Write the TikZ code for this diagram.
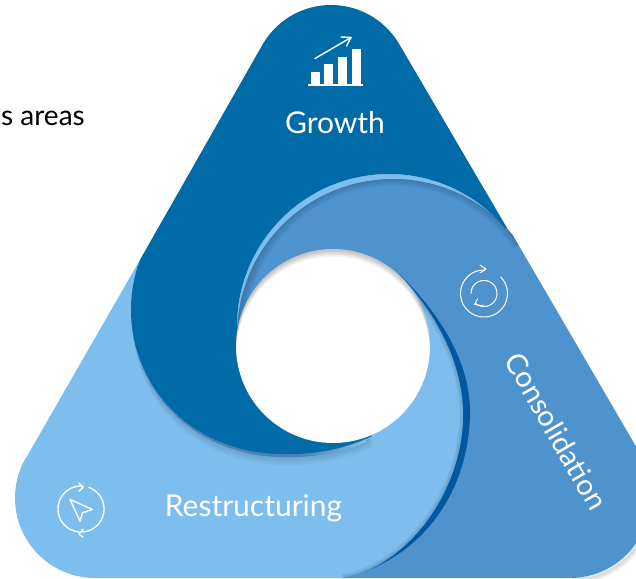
\documentclass[tikz,border=0pt]{standalone}
\usepackage{fontspec}
\setmainfont{Lato}
\definecolor{growthc}{HTML}{006BA6}
\definecolor{consc}{HTML}{4E92CE}
\definecolor{restc}{HTML}{7DBEEE}
\definecolor{stripc}{HTML}{0058A0}
\definecolor{bandc}{HTML}{4C80B9}
\newcommand\parc[5]{plot[domain=#4:#5,samples=70] ({#1+#3*cos(\x)},{#2+#3*sin(\x)})}
\newcommand\lparc[5]{-- plot[domain=#4:#5,samples=70] ({#1+#3*cos(\x)},{#2+#3*sin(\x)})}
\newcommand\restcurve{.. controls (410,565) and (461,490) .. (463,420) .. controls (465,370) and (440,315) .. (393,268)}
\newcommand\stripcurve{.. controls (420,560) and (468,495) .. (470,415) .. controls (471,365) and (443,315) .. (393,268)}
\newcommand\conspath{\parc{393}{335}{156}{-180}{-40} -- (641,455) \lparc{570}{498}{80}{-30}{90} -- (340,578) -- cycle}
\newcommand\restpath{(141,258) -- (26,458) \lparc{95}{498}{80}{210}{90} -- (343,578) \restcurve -- (333,346) -- (250,380) -- cycle}
\newcommand\growthpath{\parc{331}{84}{79}{-150}{-30} -- (507,228) \lparc{389}{326}{152}{-40}{-180} -- (372,436) .. controls (345,449) and (315,455) .. (280,454) .. controls (190,452) and (131,385) .. (131,310) .. controls (131,290) and (135,272) .. (141,258) -- cycle}
\tikzset{
  iconline/.style={draw=white,line width=1.4pt,line cap=round,line join=round},
  thinicon/.style={draw=white,line width=1pt,line cap=round,line join=round},
  labeltext/.style={text=white,inner sep=0pt,font=\fontsize{30}{34}\selectfont},
  softline/.style={draw=black,draw opacity=.035}
}
\begin{document}
\begin{tikzpicture}[x=1pt,y=-1pt]
\useasboundingbox (0,0) rectangle (636,578);
\clip (0,0) rectangle (636,578);
% outer soft shadow of the lower right corner
\foreach \w in {2,4,6,8}{\draw[softline,line width=\w pt] \parc{572}{500}{80}{0}{90};}
% sliver
\fill[restc] \parc{389}{326}{152}{-180}{-40} -- cycle;
% consolidation
\fill[consc] \conspath;
\begin{scope}
  \clip \conspath;
  \foreach \w in {3,6,9,12,15}{\draw[softline,line width=\w pt] \parc{393}{333}{155}{-185}{-35};}
\end{scope}
% dark strip
\fill[stripc] (343,578) \stripcurve -- (333,346) -- cycle;
% restructuring
\fill[restc] \restpath;
\begin{scope}
  \clip \restpath;
  \foreach \w in {2,4,6,8}{\draw[softline,line width=\w pt] (343,578) \restcurve;}
  \foreach \s in {3,5,7,9,11}{\fill[black,opacity=.03,shift={(1,\s)}] \growthpath;}
  \begin{scope}[shift={(1,3)}]
    \clip \growthpath;
    \fill[bandc] (100,200) rectangle (300,480);
    \shade[left color=bandc,right color=restc] (299.5,400) rectangle (365,480);
  \end{scope}
\end{scope}
% growth
\fill[growthc] \growthpath;
% hole
\fill[white] (333,346) circle[radius=97];
\begin{scope}
  \clip (333,346) circle[radius=97];
  \foreach \k in {1.5,3,4.5,6,7.5}{\fill[black,opacity=.05,even odd rule] (333,346) circle[radius=98] (333,346+\k) circle[radius=97];}
\end{scope}
% growth icon
\fill[white] (308,84) rectangle (363,86);
\fill[white] (311,72) rectangle (320,85);
\fill[white] (324,64) rectangle (333,85);
\fill[white] (338,57) rectangle (347,85);
\fill[white] (352,49) rectangle (361,85);
\draw[iconline] (315,58.5) -- (351,37.5);
\draw[iconline] (341,37) -- (351,37.5) -- (346.5,46);
% restructuring icon
\draw[iconline] \parc{81}{509}{23}{-85}{-265};
\draw[iconline] \parc{81}{509}{23}{-70}{88};
\draw[iconline] (79,483) -- (83,487.7) -- (79,491);
\draw[iconline] (83,529) -- (79,534) -- (83,537);
\draw[iconline] (70,499.5) -- (92.5,509.5) -- (82.5,512.7) -- (80,521) -- cycle;
% consolidation icon
\draw[thinicon] \parc{484}{293.5}{23.5}{-88}{-405};
\draw[thinicon] (480,265) -- (486,269) -- (480,273);
\draw[thinicon] \parc{484}{293.5}{13}{180}{490};
\draw[thinicon] (477.5,299) -- (474.5,304.5) -- (484,306);
% labels
\node[labeltext,anchor=base] (growthlabel) at (335,133) {Growth};
\node[labeltext,anchor=base] (restlabel) at (253.5,516) {Restructuring};
\node[labeltext,rotate=-60,font=\fontsize{29}{34}\selectfont] (conslabel) at (556.5,431) {Consolidation};
\node[inner sep=0pt,anchor=base east,text=black,font=\fontsize{28}{32}\selectfont] (areaslabel) at (85,125) {s areas};
\end{tikzpicture}
\end{document}
